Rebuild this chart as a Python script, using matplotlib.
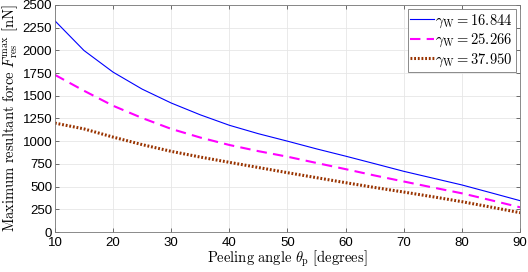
import numpy as np
import matplotlib.pyplot as plt

plt.rcParams['mathtext.fontset'] = 'cm'
plt.rcParams['font.family'] = ['Liberation Sans', 'DejaVu Sans']

# peeling angle [degrees]
theta = [10, 15, 20, 25, 30, 35, 40, 45, 50, 55, 60, 65, 70, 75, 80, 85, 90]

# maximum resultant force [nN]
f_1 = [2325, 1998, 1760, 1573, 1420, 1290, 1175, 1082, 1000, 915, 835, 752, 668, 593, 518, 432, 345]
f_2 = [1730, 1555, 1390, 1255, 1135, 1040, 958, 890, 829, 760, 692, 622, 556, 490, 426, 350, 272]
f_3 = [1199, 1135, 1045, 962, 888, 825, 767, 710, 653, 598, 543, 490, 440, 388, 334, 274, 213]

labels = [r'$\gamma_{\rm W} = 16.844$', r'$\gamma_{\rm W} = 25.266$', r'$\gamma_{\rm W} = 37.950$']

fig = plt.figure(figsize=(5.28, 2.72), dpi=100)
ax = fig.add_axes([0.104, 0.147, 0.881, 0.835])

ax.plot(theta, f_1, color='#0000ff', lw=0.8, label=labels[0])
ax.plot(theta, f_2, color='#ff00ff', lw=1.5, ls=(0, (5, 3)), label=labels[1])
ax.plot(theta, f_3, color='#993300', lw=2.2, ls=(0, (0.6, 0.6)), label=labels[2])

ax.set_xlim(10, 90)
ax.set_ylim(0, 2500)
ax.set_xticks(np.arange(10, 91, 10))
ax.set_yticks(np.arange(0, 2501, 250))
ax.tick_params(direction='in', top=True, right=True, labelsize=9.5, length=3,
               color='#555555', width=0.6, pad=2)
ax.tick_params(axis='x', pad=3.5)
for s in ax.spines.values():
    s.set_color('#777777')
    s.set_linewidth(0.6)
ax.grid(True, color='#e6e6e6', lw=0.6)
ax.set_axisbelow(True)

ax.set_xlabel(r'$\mathrm{Peeling\ angle}\ \theta_{\rm p}\ [\mathrm{degrees}]$', fontsize=10.5, labelpad=0)
ax.set_ylabel(r'$\mathrm{Maximum\ resultant\ force}\ F^{\rm max}_{\rm res}\ [\mathrm{nN}]$', fontsize=10.5, labelpad=2)

leg = ax.legend(loc='upper right', fontsize=10.5, handlelength=1.6, handletextpad=0.1,
                borderpad=0.2, labelspacing=0.15, borderaxespad=0.3, fancybox=False,
                framealpha=1, edgecolor='#777777')
leg.get_frame().set_linewidth(0.6)

fig.savefig('out.png', dpi=100)
